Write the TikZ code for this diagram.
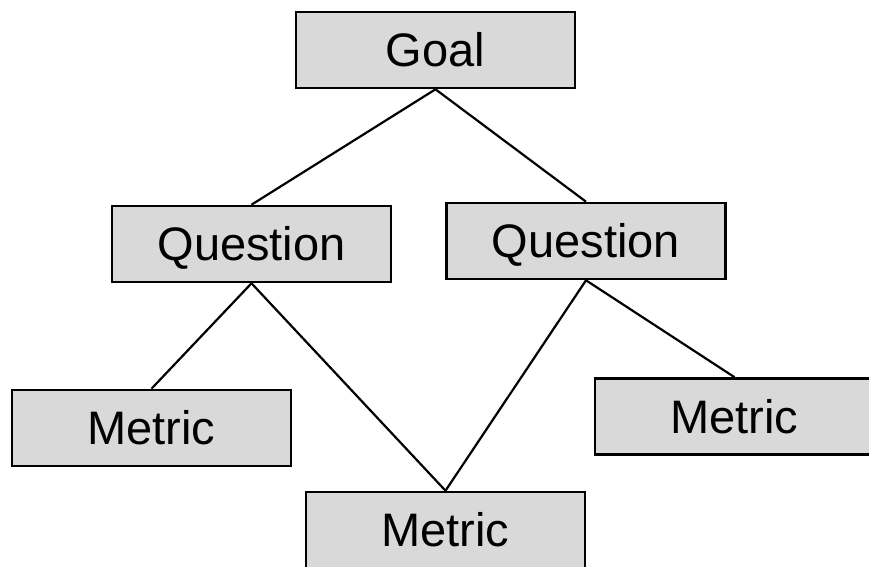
\documentclass[tikz,border=0pt]{standalone}
\usepackage{fontspec}
\setmainfont{Liberation Sans}
\usepackage{tikz}
\usetikzlibrary{positioning}
\colorlet{boxfill}{black!15}

\begin{document}
\begin{tikzpicture}[x=0.5pt,y=-0.5pt]
\tikzstyle{gqm}=[rectangle,draw=black,line width=1.3pt,fill=boxfill,minimum width=139.5pt,minimum height=38pt,inner sep=0pt,text height=16.8pt,text depth=0pt,font=\fontsize{23.5}{28}\selectfont]
\tikzstyle{every edge}=[draw,line width=1.1pt]
\useasboundingbox (0,0) rectangle (869,567);
\node [gqm] (goal) at(435.5,50) {Goal};
\node [gqm] (q1) at(251.5,244) {Question};
\node [gqm] (q2) at(586,241) {Question};
\node [gqm] (m1) at(151.5,428) {Metric};
\node [gqm] (m2) at(445.5,530) {Metric};
\node [gqm] (m3) at(734.5,416.5) {Metric};

\path (goal.south) edge (q1.north);
\path (goal.south) edge (q2.north);
\path (q1.south) edge (m1.north);
\path (q1.south) edge (m2.north);
\path (q2.south) edge (m2.north);
\path (q2.south) edge (m3.north);
\end{tikzpicture}
\end{document}
